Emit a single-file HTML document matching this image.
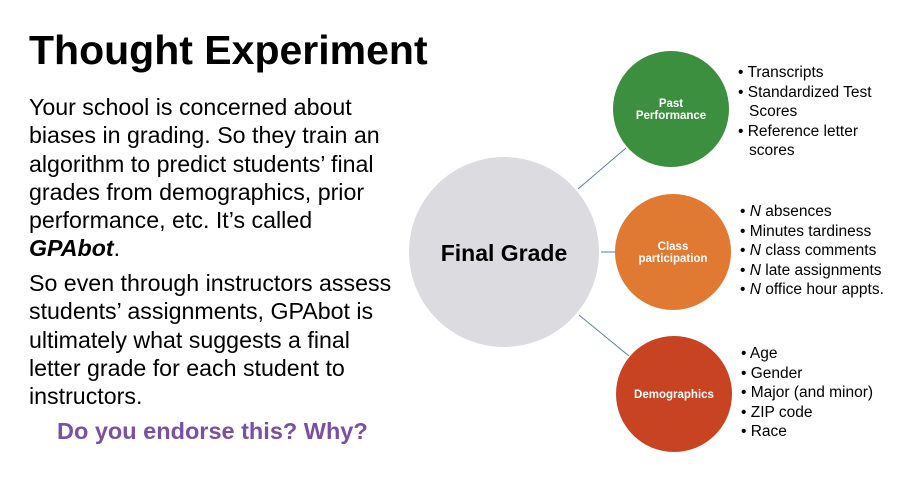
<!DOCTYPE html>
<html><head><meta charset="utf-8"><style>
body{margin:0;width:900px;height:485px;background:#fff;overflow:hidden;font-family:"Liberation Sans",Arial,sans-serif;position:relative}
.t{position:absolute;white-space:nowrap;color:#000}
.title{left:29px;top:28px;font-size:41px;font-weight:bold;line-height:44px}
.body{left:29px;font-size:23.2px;line-height:28.3px}
.q{left:57px;top:418px;font-size:23.5px;font-weight:bold;color:#7b4fa3}
.bl{position:absolute;font-size:15.5px;line-height:19.5px;white-space:nowrap}
.bl div{padding-left:11px;text-indent:-11px}
</style></head><body>
<div class="t title">Thought Experiment</div>
<div class="t body" style="top:93px">Your school is concerned about<br>biases in grading. So they train an<br>algorithm to predict students’ final<br>grades from demographics, prior<br>performance, etc. It’s called<br><b><i>GPAbot</i></b>.</div>
<div class="t body" style="top:269px">So even through instructors assess<br>students’ assignments, GPAbot is<br>ultimately what suggests a final<br>letter grade for each student to<br>instructors.</div>
<div class="t q">Do you endorse this? Why?</div>
<svg width="900" height="485" style="position:absolute;left:0;top:0">
<line x1="578" y1="189" x2="626" y2="148" stroke="#5a7fa8" stroke-width="1"/>
<line x1="601" y1="252" x2="615" y2="252" stroke="#5a7fa8" stroke-width="1"/>
<line x1="579" y1="315" x2="629" y2="356" stroke="#5a7fa8" stroke-width="1"/>
<circle cx="504" cy="252" r="95" fill="#dcdbdf"/>
<circle cx="671" cy="109" r="58" fill="#3c8f3e"/>
<circle cx="673" cy="252" r="58" fill="#e07a33"/>
<circle cx="674" cy="394" r="58" fill="#c84322"/>
<text x="504" y="261" font-family="Liberation Sans,Arial,sans-serif" font-size="23" font-weight="bold" text-anchor="middle">Final Grade</text>
<g font-family="Liberation Sans,Arial,sans-serif" font-size="11.5" font-weight="bold" fill="#fff" text-anchor="middle">
<text x="671" y="107">Past</text><text x="671" y="119">Performance</text>
<text x="673" y="250">Class</text><text x="673" y="262">participation</text>
<text x="674" y="398">Demographics</text>
</g>
</svg>
<div class="bl" style="left:738px;top:63px"><div>• Transcripts</div><div>• Standardized Test<br>Scores</div><div>• Reference letter<br>scores</div></div>
<div class="bl" style="left:740px;top:202px"><div>• <i>N</i> absences</div><div>• Minutes tardiness</div><div>• <i>N</i> class comments</div><div>• <i>N</i> late assignments</div><div>• <i>N</i> office hour appts.</div></div>
<div class="bl" style="left:741px;top:344px"><div>• Age</div><div>• Gender</div><div>• Major (and minor)</div><div>• ZIP code</div><div>• Race</div></div>
</body></html>
